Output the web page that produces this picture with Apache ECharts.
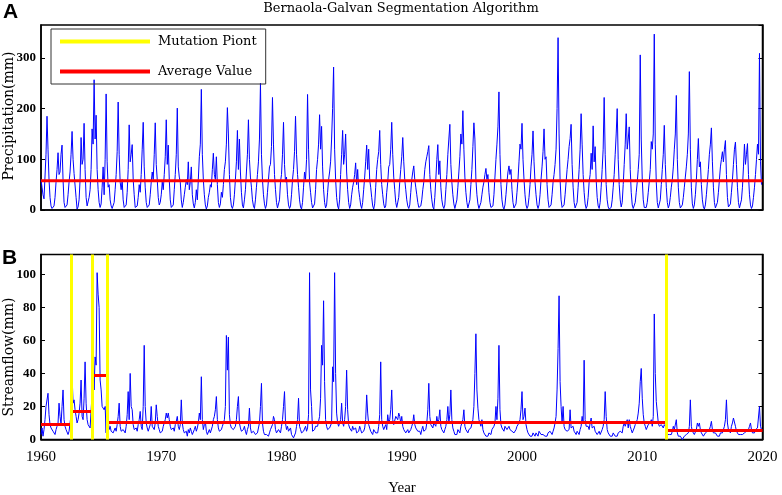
<!DOCTYPE html>
<html>
<head>
<meta charset="utf-8">
<script src="https://cdn.jsdelivr.net/npm/echarts@6/dist/echarts.min.js"></script>
<style>
  html, body { margin: 0; padding: 0; background: #fff; }
  #chart { width: 782px; height: 495px; }
</style>
</head>
<body>
<div id="chart"></div>
<script>
// monthly series, Jan 1960 .. Dec 2019 (one row per year)
var startYear = 1960;

var precipitation = [
  60, 45, 30, 22, 25, 110, 185, 120, 60, 25, 8, 3,
  2, 8, 25, 55, 80, 113, 70, 75, 110, 128, 60, 15,
  5, 2, 10, 30, 55, 75, 110, 155, 100, 72, 70, 25,
  2, 6, 20, 60, 143, 90, 100, 171, 80, 25, 8, 10,
  25, 40, 80, 160, 130, 257, 140, 187, 80, 40, 15, 5,
  12, 45, 85, 30, 100, 229, 95, 45, 50, 20, 8, 3,
  4, 15, 40, 70, 115, 213, 110, 55, 40, 60, 20, 5,
  2, 10, 35, 80, 168, 95, 110, 129, 60, 30, 5, 2,
  8, 25, 50, 35, 70, 120, 173, 85, 45, 15, 5, 3,
  10, 30, 55, 75, 60, 110, 172, 90, 60, 25, 10, 15,
  30, 55, 40, 70, 105, 178, 90, 128, 60, 20, 5, 2,
  10, 40, 70, 110, 201, 85, 65, 55, 20, 5, 15, 30,
  45, 60, 50, 95, 40, 55, 85, 30, 12, 4, 15, 40,
  20, 60, 105, 130, 238, 110, 60, 30, 10, 2, 8, 25,
  35, 50, 45, 80, 112, 70, 60, 105, 50, 15, 5, 12,
  35, 25, 50, 80, 95, 130, 202, 150, 70, 25, 8, 3,
  10, 30, 60, 95, 157, 80, 140, 75, 35, 10, 4, 20,
  40, 75, 110, 178, 100, 65, 45, 20, 8, 3, 20, 45,
  70, 95, 140, 250, 110, 60, 30, 12, 3, 10, 35, 60,
  85, 90, 125, 222, 130, 70, 40, 15, 4, 2, 20, 55,
  70, 110, 173, 90, 55, 65, 30, 10, 3, 8, 30, 60,
  80, 115, 185, 110, 70, 45, 20, 6, 2, 15, 45, 75,
  60, 100, 228, 120, 55, 35, 15, 4, 2, 12, 40, 80,
  100, 130, 188, 120, 165, 85, 40, 15, 4, 10, 35, 60,
  75, 95, 140, 200, 282, 120, 60, 25, 8, 2, 20, 70,
  110, 157, 90, 110, 150, 75, 40, 15, 3, 10, 30, 45,
  55, 70, 93, 50, 80, 40, 25, 10, 3, 15, 40, 65,
  95, 128, 80, 120, 60, 45, 25, 8, 2, 12, 45, 80,
  100, 115, 157, 90, 50, 30, 12, 4, 8, 35, 55, 85,
  90, 120, 173, 110, 65, 40, 15, 5, 2, 25, 55, 80,
  105, 143, 95, 60, 40, 20, 8, 3, 10, 35, 60, 75,
  87, 60, 45, 30, 15, 5, 2, 8, 20, 40, 55, 80,
  95, 105, 115, 127, 70, 40, 20, 6, 2, 25, 60, 100,
  129, 70, 97, 45, 20, 8, 3, 10, 40, 70, 110, 140,
  169, 90, 55, 30, 12, 3, 5, 20, 45, 75, 105, 150,
  130, 196, 120, 65, 35, 15, 4, 2, 20, 50, 80, 125,
  172, 140, 60, 30, 12, 3, 5, 15, 30, 45, 55, 70,
  82, 60, 70, 35, 15, 5, 2, 8, 30, 65, 100, 130,
  164, 233, 110, 50, 20, 6, 2, 10, 30, 55, 75, 87,
  70, 80, 40, 15, 4, 2, 12, 35, 60, 95, 130, 120,
  171, 100, 60, 30, 10, 3, 8, 25, 50, 85, 110, 156,
  95, 55, 30, 10, 3, 10, 30, 60, 85, 115, 160, 100,
  105, 50, 20, 5, 2, 10, 30, 55, 70, 90, 120, 200,
  340, 150, 60, 20, 5, 2, 10, 30, 55, 80, 100, 125,
  141, 169, 90, 45, 15, 4, 2, 15, 45, 80, 120, 190,
  130, 70, 35, 12, 3, 8, 25, 55, 70, 112, 80, 166,
  95, 125, 60, 25, 8, 3, 15, 45, 80, 120, 222, 110,
  50, 20, 6, 2, 3, 5, 20, 45, 70, 110, 150, 200,
  100, 50, 20, 6, 15, 50, 90, 130, 190, 120, 140, 164,
  80, 35, 10, 3, 5, 15, 35, 55, 80, 110, 306, 140,
  60, 20, 5, 2, 5, 15, 35, 56, 80, 135, 120, 150,
  347, 130, 55, 15, 4, 2, 20, 50, 80, 110, 167, 90,
  45, 15, 4, 10, 25, 45, 60, 85, 120, 150, 226, 100,
  45, 15, 4, 2, 10, 25, 45, 65, 85, 110, 150, 273,
  120, 45, 12, 3, 10, 30, 60, 100, 141, 85, 95, 50,
  20, 6, 2, 10, 30, 55, 80, 110, 130, 162, 95, 45,
  15, 4, 3, 15, 35, 60, 85, 100, 115, 95, 120, 137,
  70, 25, 6, 3, 12, 35, 60, 90, 120, 134, 90, 45,
  15, 4, 3, 20, 45, 85, 130, 90, 110, 131, 70, 30,
  10, 3, 8, 25, 45, 70, 100, 130, 110, 309, 95, 50
];

var streamflow = [
  3, 7, 2, 6, 12, 20, 20, 28, 15, 9, 7, 6,
  5, 4, 3, 6, 8, 10, 22, 14, 9, 20, 30, 12,
  8, 6, 5, 3, 5, 4, 15, 39, 22, 24, 18, 14,
  10, 12, 16, 22, 36, 14, 12, 25, 47, 22, 12, 9,
  8, 7, 8, 28, 61, 30, 50, 45, 101, 88, 80, 36,
  30, 20, 20, 18, 20, 4, 70, 12, 6, 8, 5, 6,
  4, 5, 7, 5, 9, 14, 22, 8, 5, 4, 6, 5,
  4, 8, 15, 29, 12, 40, 20, 18, 9, 6, 5, 7,
  5, 9, 12, 17, 8, 6, 20, 57, 20, 10, 7, 5,
  6, 9, 20, 8, 7, 6, 10, 21, 14, 8, 6, 4,
  3, 5, 8, 10, 12, 16, 13, 16, 12, 8, 6, 5,
  7, 5, 9, 11, 14, 8, 6, 9, 24, 10, 6, 4,
  3, 5, 2, 6, 4, 7, 5, 3, 4, 6, 8, 5,
  7, 10, 16, 12, 38, 12, 6, 9, 11, 5, 3, 4,
  6, 4, 5, 8, 12, 14, 18, 26, 12, 7, 5, 4,
  6, 8, 9, 12, 20, 63, 42, 62, 15, 9, 7, 8,
  6, 5, 8, 12, 20, 26, 10, 7, 5, 4, 6, 8,
  5, 3, 6, 8, 19, 7, 4, 3, 5, 4, 3, 2,
  4, 3, 10, 20, 34, 10, 5, 3, 2, 3, 4, 2,
  4, 6, 5, 9, 14, 12, 6, 4, 5, 6, 5, 4,
  8, 12, 20, 29, 10, 6, 8, 5, 4, 7, 3, 2,
  1, 0, 4, 8, 12, 25, 8, 6, 4, 3, 5, 6,
  8, 5, 7, 15, 101, 30, 20, 5, 4, 6, 8, 7,
  8, 9, 14, 25, 57, 45, 84, 35, 12, 8, 6, 5,
  7, 6, 10, 44, 35, 101, 40, 16, 10, 8, 7, 12,
  22, 10, 8, 12, 20, 42, 18, 9, 7, 6, 5, 8,
  6, 5, 7, 4, 3, 5, 8, 6, 4, 3, 5, 7,
  12, 27, 16, 9, 8, 5, 4, 3, 6, 5, 4, 3,
  4, 8, 15, 47, 12, 8, 6, 7, 9, 6, 15, 10,
  12, 18, 30, 12, 9, 8, 14, 15, 12, 16, 14, 10,
  14, 8, 6, 5, 4, 5, 6, 4, 3, 6, 8, 10,
  15, 9, 7, 6, 5, 4, 5, 3, 6, 8, 5, 4,
  6, 10, 18, 34, 14, 9, 8, 7, 10, 9, 8, 14,
  10, 12, 18, 8, 6, 5, 4, 6, 8, 12, 20, 10,
  15, 30, 12, 7, 5, 3, 4, 3, 6, 5, 4, 8,
  10, 12, 18, 8, 6, 5, 4, 6, 5, 7, 8, 12,
  20, 40, 64, 30, 19, 12, 10, 8, 12, 6, 4, 3,
  2, 3, 2, 4, 5, 3, 6, 5, 8, 10, 20, 12,
  25, 57, 18, 9, 7, 6, 5, 8, 7, 6, 5, 8,
  6, 7, 5, 6, 4, 5, 6, 8, 7, 10, 12, 18,
  29, 12, 14, 19, 9, 6, 4, 3, 2, 3, 2, 4,
  3, 2, 4, 3, 2, 5, 4, 3, 2, 3, 4, 2,
  3, 2, 4, 3, 5, 4, 3, 5, 7, 10, 14, 30,
  55, 87, 35, 20, 10, 20, 8, 6, 7, 5, 4, 6,
  18, 7, 6, 8, 5, 4, 3, 5, 4, 3, 6, 8,
  14, 10, 48, 12, 8, 7, 8, 6, 10, 13, 7, 6,
  8, 5, 4, 3, 4, 5, 3, 4, 6, 8, 12, 29,
  14, 6, 4, 3, 2, 3, 2, 4, 3, 2, 3, 2,
  4, 3, 5, 6, 4, 8, 10, 8, 9, 12, 7, 12,
  8, 6, 4, 5, 7, 9, 10, 12, 16, 22, 35, 43,
  25, 15, 10, 8, 6, 7, 9, 8, 10, 12, 8, 14,
  76, 40, 23, 22, 10, 8, 7, 9, 8, 7, 9, 8,
  7, 3, 2, 3, 2, 3, 5, 8, 6, 5, 12, 4,
  2, 1, 2, 1, 0, 1, 2, 1, 3, 2, 4, 8,
  24, 8, 5, 4, 3, 4, 6, 10, 8, 10, 6, 4,
  3, 2, 3, 4, 3, 5, 4, 6, 8, 11, 6, 4,
  3, 4, 3, 2, 3, 2, 4, 3, 4, 6, 8, 12,
  24, 10, 6, 5, 4, 8, 10, 13, 13, 8, 5, 4,
  3, 2, 3, 4, 3, 2, 4, 3, 5, 4, 6, 8,
  10, 6, 4, 5, 4, 6, 5, 7, 8, 20, 8, 6
];

var precipMean = 57.5;
var mutationPoints = [1962.5, 1964.24, 1965.55, 2012.0];
var segmentMeans = [9.3, 17.4, 38.8, 10.2, 5.7];

function toPairs(values) {
  return values.map(function(v, i) { return [startYear + i / 12, v]; });
}

function initChart() {
  var chart = echarts.init(document.getElementById('chart'));

  // red average segments between mutation points
  var bounds = [1960].concat(mutationPoints, [2020]);
  var segLines = [];
  for (var i = 0; i < segmentMeans.length; i++) {
    segLines.push([{coord: [bounds[i], segmentMeans[i]]}, {coord: [bounds[i + 1], segmentMeans[i]]}]);
  }

  var serif = 'Liberation Serif';
  var axisBox = {lineStyle: {color: '#000', width: 1.5}};

  function yAxis(grid, max, interval, left) {
    return {
      type: 'value', gridIndex: grid, min: 0, max: max, interval: interval,
      position: left ? 'left' : 'right',
      axisLine: {show: true, lineStyle: {color: '#000', width: 1.5}},
      axisTick: {show: true, inside: true, length: 4, lineStyle: {color: '#000'}},
      axisLabel: {show: left, showMaxLabel: false, margin: 5, fontFamily: serif, fontWeight: 'bold', fontSize: 13, color: '#000'},
      splitLine: {show: false}
    };
  }

  chart.setOption({
    animation: false,
    legend: {
      left: 51, top: 29, orient: 'vertical',
      data: ['Mutation Piont', 'Average Value'],
      icon: 'rect', itemWidth: 90, itemHeight: 4, itemGap: 17,
      selectedMode: false,
      borderColor: '#333', borderWidth: 1,
      padding: [6, 9, 6, 9],
      textStyle: {fontFamily: 'DejaVu Serif', fontSize: 13, color: '#000', padding: [0, 0, 0, 3]}
    },
    grid: [
      {left: 41, top: 25, width: 721.5, height: 185, show: true, borderColor: '#000', borderWidth: 1.5},
      {left: 41, top: 254.5, width: 721.5, height: 185, show: true, borderColor: '#000', borderWidth: 1.5}
    ],
    xAxis: [
      {type: 'value', gridIndex: 0, min: 1960, max: 2020, interval: 10,
        axisLine: axisBox, axisTick: {show: false}, axisLabel: {show: false}, splitLine: {show: false}},
      {type: 'value', gridIndex: 1, min: 1960, max: 2020, interval: 10,
        axisLine: axisBox, axisTick: {show: false}, splitLine: {show: false},
        axisLabel: {margin: 10, fontFamily: serif, fontSize: 15, color: '#000',
          formatter: function(v) { return String(v); }}}
    ],
    yAxis: [
      yAxis(0, 365, 100, true),
      yAxis(0, 365, 100, false),
      yAxis(1, 112, 20, true),
      yAxis(1, 112, 20, false)
    ],
    series: [
      {
        name: 'Precipitation', type: 'line', xAxisIndex: 0, yAxisIndex: 0,
        data: toPairs(precipitation), showSymbol: false, silent: true,
        lineStyle: {color: '#0000ff', width: 1}, itemStyle: {color: '#0000ff'}, z: 2
      },
      {
        name: 'Average Value', type: 'line', xAxisIndex: 0, yAxisIndex: 0,
        data: [[1960, precipMean], [2020, precipMean]], showSymbol: false, silent: true,
        lineStyle: {color: '#ff0000', width: 3}, itemStyle: {color: '#ff0000'}, z: 3
      },
      {
        name: 'Streamflow', type: 'line', xAxisIndex: 1, yAxisIndex: 2,
        data: toPairs(streamflow), showSymbol: false, silent: true,
        lineStyle: {color: '#0000ff', width: 1}, itemStyle: {color: '#0000ff'}, z: 2
      },
      {
        name: 'Average Value', type: 'line', xAxisIndex: 1, yAxisIndex: 2,
        data: [], showSymbol: false, silent: true,
        itemStyle: {color: '#ff0000'}, z: 3,
        markLine: {
          silent: true, symbol: 'none', animation: false,
          label: {show: false},
          lineStyle: {color: '#ff0000', width: 3, type: 'solid'},
          data: segLines
        }
      },
      {
        name: 'Mutation Piont', type: 'line', xAxisIndex: 1, yAxisIndex: 2,
        data: [], showSymbol: false, silent: true,
        itemStyle: {color: '#ffff00'}, z: 4,
        markLine: {
          silent: true, symbol: 'none', animation: false,
          label: {show: false},
          lineStyle: {color: '#ffff00', width: 3, type: 'solid'},
          data: mutationPoints.map(function(x) { return {xAxis: x}; })
        }
      }
    ],
    graphic: [
      {type: 'text', left: 3, top: 2, style: {text: 'A', font: 'bold 21px "Liberation Sans"', fill: '#000'}},
      {type: 'text', left: 2, top: 248, style: {text: 'B', font: 'bold 21px "Liberation Sans"', fill: '#000'}},
      {type: 'text', x: 401, y: 9, style: {text: 'Bernaola-Galvan Segmentation Algorithm', font: '13px "DejaVu Serif"', fill: '#000', textAlign: 'center', textVerticalAlign: 'middle'}},
      {type: 'text', x: 9, y: 116, rotation: Math.PI / 2, style: {text: 'Precipitation(mm)', font: '14px "DejaVu Serif"', fill: '#000', textAlign: 'center', textVerticalAlign: 'middle'}},
      {type: 'text', x: 9, y: 357, rotation: Math.PI / 2, style: {text: 'Streamflow(mm)', font: '14px "DejaVu Serif"', fill: '#000', textAlign: 'center', textVerticalAlign: 'middle'}},
      {type: 'text', x: 402, y: 488, style: {text: 'Year', font: '15px "Liberation Serif"', fill: '#000', textAlign: 'center', textVerticalAlign: 'middle'}}
    ]
  });
}

initChart();
</script>
</body>
</html>
